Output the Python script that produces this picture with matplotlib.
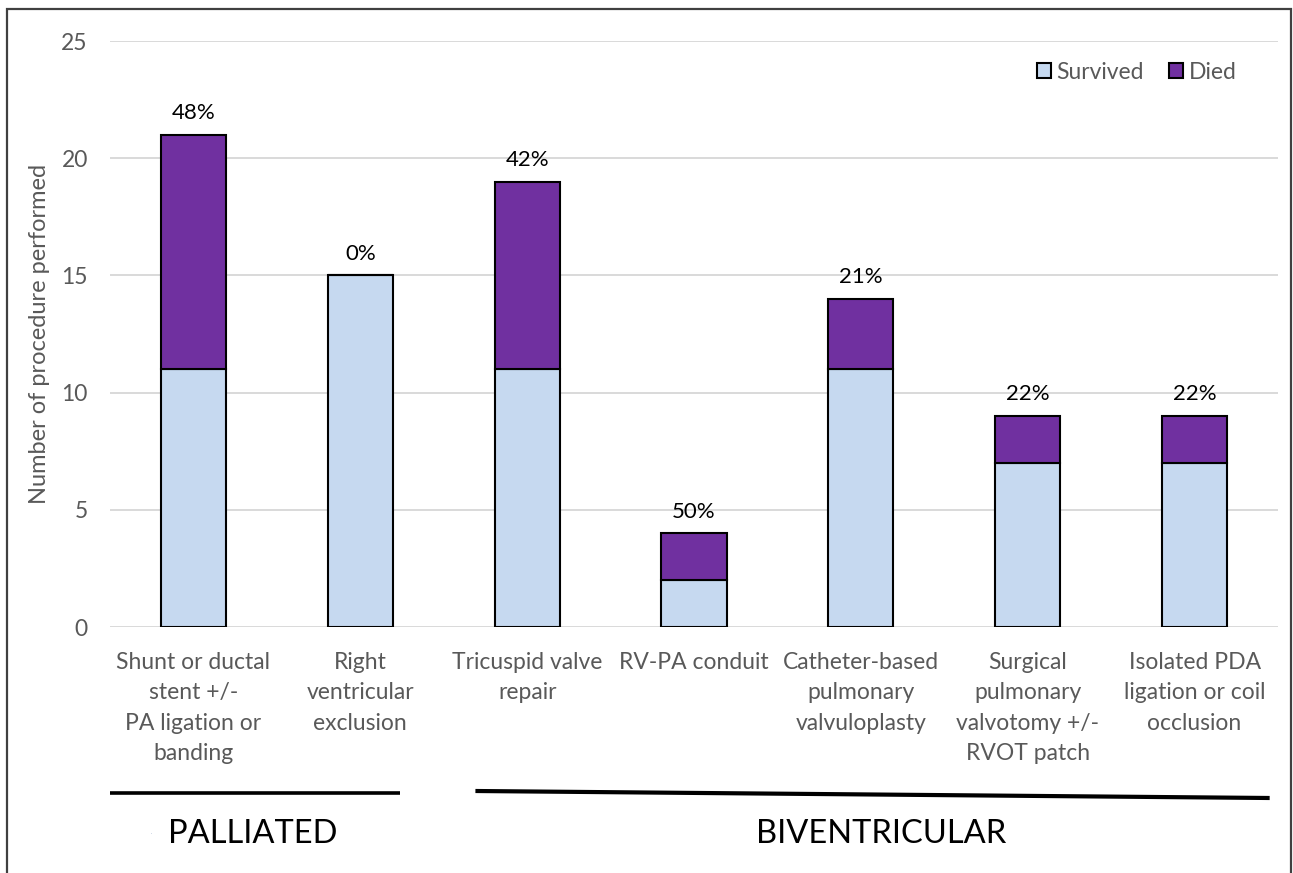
import matplotlib.pyplot as plt
import matplotlib.transforms as mtransforms
from matplotlib.patches import Rectangle, Patch
import numpy as np

plt.rcParams['font.family'] = ['Lato', 'DejaVu Sans']

categories = ["Shunt or ductal\nstent +/-\nPA ligation or\nbanding",
              "Right\nventricular\nexclusion",
              "Tricuspid valve\nrepair",
              "RV-PA conduit",
              "Catheter-based\npulmonary\nvalvuloplasty",
              "Surgical\npulmonary\nvalvotomy +/-\nRVOT patch",
              "Isolated PDA\nligation or coil\nocclusion"]
survived = [11, 15, 11, 2, 11, 7, 7]
died = [10, 0, 8, 2, 3, 2, 2]
pct_labels = ["48%", "0%", "42%", "50%", "21%", "22%", "22%"]
groups = ["PALLIATED", "BIVENTRICULAR"]

c_surv = "#C6D9F0"
c_died = "#7030A0"
grey = "#595959"

fig = plt.figure(figsize=(12.93, 8.73), dpi=100)
ax = fig.add_axes([110/1293, 1-627/873, 1168/1293, 586/873])

x = np.arange(len(categories))
w = 0.39
ax.bar(x, survived, w, color=c_surv, edgecolor="black", linewidth=1.5, zorder=3)
ax.bar(x, died, w, bottom=survived, color=c_died, edgecolor="black", linewidth=1.5, zorder=3)
tot = np.array(survived) + np.array(died)
for xi, t, lab in zip(x, tot, pct_labels):
    ax.text(xi, t + 0.5, lab, ha="center", va="bottom", fontsize=16, color="black")

ax.set_xlim(-0.5, len(categories) - 0.5)
ax.set_ylim(0, 25)
ax.set_yticks([0, 5, 10, 15, 20, 25])
ax.yaxis.grid(True, color="#D9D9D9", linewidth=1.4, zorder=0)
for s in ax.spines.values():
    s.set_visible(False)
ax.tick_params(axis="both", length=0, labelsize=16.5, colors=grey)
ax.tick_params(axis="y", pad=16)
ax.tick_params(axis="x", pad=18)
ax.set_xticks(x)
ax.set_xticklabels(categories, linespacing=1.55)
ax.set_ylabel("Number of procedure performed", fontsize=17, color=grey, labelpad=8)

leg_handles = [Patch(facecolor=c_surv, edgecolor="black", linewidth=1.5, label="Survived"),
               Patch(facecolor=c_died, edgecolor="black", linewidth=1.5, label="Died")]
leg = ax.legend(handles=leg_handles, loc="upper right", bbox_to_anchor=(0.982, 1.0),
                frameon=False, ncol=2, fontsize=16.5, handlelength=0.6, handleheight=0.6,
                handletextpad=0.25, columnspacing=1.1)
for t in leg.get_texts():
    t.set_color(grey)

# group bracket lines and labels below the axis
trans = mtransforms.blended_transform_factory(ax.transData, fig.transFigure)
ax.plot([-0.5, 1.24], [1-793/873, 1-793/873], transform=trans, color="black",
        linewidth=2.6, clip_on=False, solid_capstyle="butt")
ax.plot([1.69, 6.45], [1-791/873, 1-798/873], transform=trans, color="black",
        linewidth=3.0, clip_on=False, solid_capstyle="butt")
fig.text(253/1293, 1-834/873, groups[0], ha="center", va="center", fontsize=23.5, color="black")
fig.text(881/1293, 1-834/873, groups[1], ha="center", va="center", fontsize=23.5, color="black")
fig.text(151/1293, 1-832/873, ".", ha="center", va="center", fontsize=4, color="#8FA6C8")

# figure border (no bottom edge visible)
fig.add_artist(Rectangle((7/1293, -0.05), (1291-7)/1293, 1.05 - 9/873,
                         transform=fig.transFigure, fill=False, edgecolor="#404040", linewidth=1.6))

fig.savefig("out.png", dpi=100)
